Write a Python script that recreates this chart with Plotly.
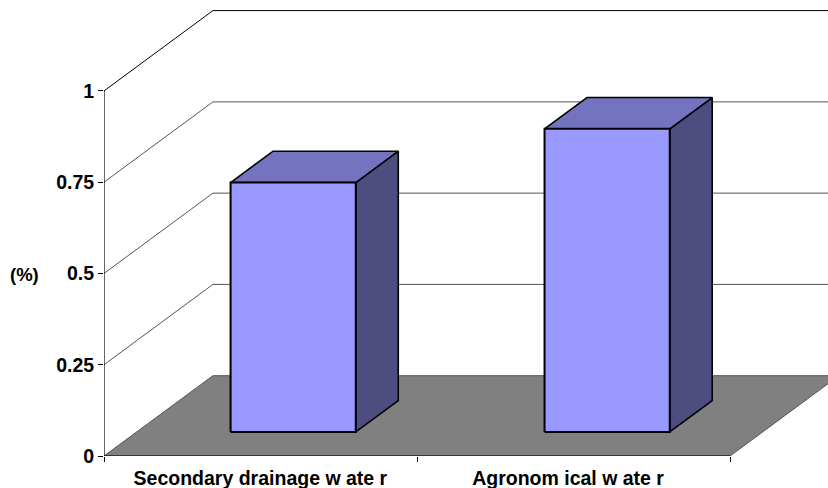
import plotly.graph_objects as go

categories = ["Secondary drainage w ate r", "Agronom ical w ate r"]
values = [0.683, 0.83]
y_ticks = [0, 0.25, 0.5, 0.75, 1]
y_labels = ["0", "0.25", "0.5", "0.75", "1"]

# oblique projection of the 3D chart box, in axis units
DX, DY = 0.348, 0.22
XMAX, YMAX = 2.313, 1.2216
BAR_X = [0.30, 1.303]
BAR_W = 0.40
D0, D1 = 0.30, 0.69
LABEL_X = [0.4996, 1.4825]
FONT = "Liberation Sans, Arial, sans-serif"


def P(x, y, d):
    return x + DX * d, y + DY * d


def poly(pts, fill, line_color="black", line_width=1.6):
    xs = [p[0] for p in pts] + [pts[0][0]]
    ys = [p[1] for p in pts] + [pts[0][1]]
    return go.Scatter(x=xs, y=ys, mode="lines", fill="toself", fillcolor=fill,
                      line=dict(color=line_color, width=line_width),
                      hoverinfo="skip", showlegend=False)


def path(pts, color, width=1):
    return go.Scatter(x=[p[0] for p in pts], y=[p[1] for p in pts], mode="lines",
                      line=dict(color=color, width=width),
                      hoverinfo="skip", showlegend=False)


fig = go.Figure()

# floor
fig.add_trace(poly([P(0, 0, 0), P(0, 0, 1), P(2, 0, 1), P(2, 0, 0)], "#808080", "#555555", 1))
# gridlines on side and back wall
for t in y_ticks[1:]:
    fig.add_trace(path([P(0, t, 0), P(0, t, 1), P(2, t, 1)], "black" if t == 1 else "#555555", 1))

# bars
for bx, v in zip(BAR_X, values):
    x0, x1 = bx, bx + BAR_W
    fig.add_trace(poly([P(x1, 0, D0), P(x1, 0, D1), P(x1, v, D1), P(x1, v, D0)], "#4D4D80"))
    fig.add_trace(poly([P(x0, v, D0), P(x0, v, D1), P(x1, v, D1), P(x1, v, D0)], "#7373BF"))
    fig.add_trace(poly([P(x0, 0, D0), P(x1, 0, D0), P(x1, v, D0), P(x0, v, D0)], "#9999FF", "black", 2))

# front axis lines
fig.add_trace(path([P(0, 1, 0), P(0, 0, 0), P(2, 0, 0)], "black", 1.2))

fig.update_layout(
    width=828, height=488, autosize=False,
    margin=dict(l=103.5, r=0, t=10, b=31.5, pad=0),
    paper_bgcolor="white", plot_bgcolor="white",
    showlegend=False,
    font=dict(family=FONT, color="black"),
    xaxis=dict(range=[0, XMAX], showgrid=False, zeroline=False, showline=False,
               tickmode="array", tickvals=LABEL_X, ticktext=categories,
               ticks="", tickangle=0, ticklabelstandoff=8,
               tickfont=dict(family=FONT, size=19.5, color="black", weight="bold"),
               minor=dict(tickmode="array", tickvals=[0, 1, 2], ticks="outside",
                          ticklen=5, tickcolor="black", tickwidth=1, showgrid=False)),
    yaxis=dict(range=[0, YMAX], showgrid=False, zeroline=False, showline=False,
               tickmode="array", tickvals=y_ticks, ticktext=y_labels,
               ticks="outside", ticklen=5, tickcolor="black", tickwidth=1,
               tickfont=dict(family=FONT, size=19.5, color="black", weight="bold")),
    annotations=[dict(text="<b>(%)</b>", xref="paper", yref="paper", x=0, y=0.5,
                      xanchor="center", yanchor="middle", xshift=-80, yshift=-41,
                      showarrow=False, font=dict(family=FONT, size=18.5, color="black"))],
)

fig.write_html("out.html", config={"displayModeBar": False},
               post_script="document.body.style.margin='0';")
